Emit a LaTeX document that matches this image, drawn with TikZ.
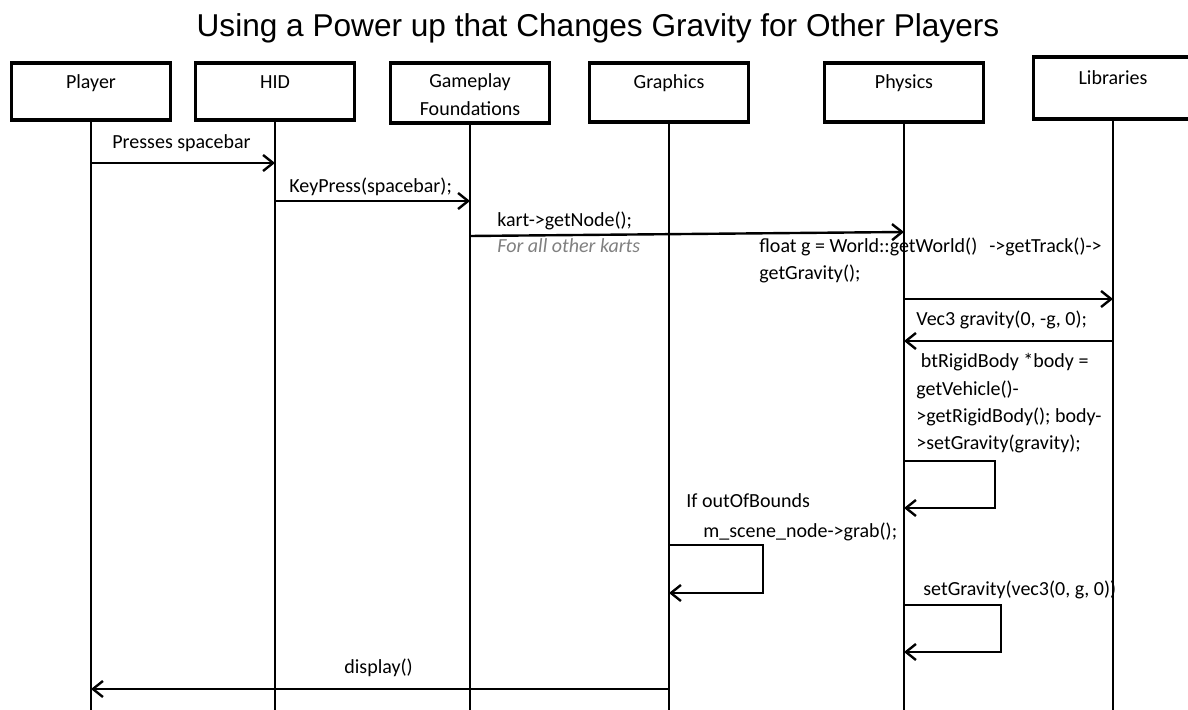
\documentclass[tikz,border=0pt]{standalone}
\usepackage{fontspec}
\setmainfont{Carlito}
\newfontfamily\titlefont{Liberation Sans}
\usetikzlibrary{arrows.meta}

\begin{document}
\begin{tikzpicture}[x=0.5pt,y=-0.5pt,
        actor/.style={draw,line width=1.7pt,minimum width=79.5pt,minimum height=28.5pt,inner sep=0pt},
        actorlabel/.style={anchor=base,inner sep=0pt,align=center,font=\fontsize{10}{14}\selectfont},
        lifeline/.style={line width=1.1pt},
        msg/.style={line width=1.2pt,-{Straight Barb[length=5pt,width=8pt]}},
        msgtext/.style={anchor=base west,inner sep=0pt,align=left,font=\fontsize{10}{13.6}\selectfont}]
    \useasboundingbox (0,0) rectangle (1188,710);
    \clip (0,0) rectangle (1188,710);

    \node[anchor=base,inner sep=0pt,font=\titlefont\fontsize{15.8}{18}\selectfont] (title) at (598,37)
        {Using a Power up that Changes Gravity for Other Players};

    \node[actor] (player) at (91,91.5) {};
    \node[actor] (hid) at (275,91.5) {};
    \node[actor,minimum height=30pt] (gameplay) at (470,93) {};
    \node[actor,minimum height=29.5pt] (graphics) at (669,92.5) {};
    \node[actor,minimum height=29.5pt] (physics) at (904,92.5) {};
    \node[actor,minimum height=31pt] (libraries) at (1113,88) {};

    \node[actorlabel] (playerlbl) at ([yshift=-13.5pt]player.north) {Player};
    \node[actorlabel] (hidlbl) at ([yshift=-13.5pt]hid.north) {HID};
    \node[actorlabel] (gameplaylbl) at ([yshift=-27pt]gameplay.north) {Gameplay\\Foundations};
    \node[actorlabel] (graphicslbl) at ([yshift=-13.5pt]graphics.north) {Graphics};
    \node[actorlabel] (physicslbl) at ([yshift=-13.5pt]physics.north) {Physics};
    \node[actorlabel] (librarieslbl) at ([yshift=-14.5pt]libraries.north) {Libraries};

    \coordinate (bottom) at (0,715);
    \foreach \n in {player,hid,gameplay,graphics,physics,libraries}
        \draw[lifeline] (\n.south) -- (\n.south |- bottom);

    \coordinate (y1) at (0,163);
    \coordinate (y2) at (0,201);
    \coordinate (y3a) at (0,236);
    \coordinate (y3b) at (0,232);
    \coordinate (y4) at (0,299);
    \coordinate (y5) at (0,341);
    \coordinate (y6) at (0,461);
    \coordinate (y7) at (0,545);
    \coordinate (y8) at (0,605);
    \coordinate (y9) at (0,689);

    \draw[msg] (player |- y1) -- (hid |- y1);
    \draw[msg] (hid |- y2) -- (gameplay |- y2);
    \draw[msg] (gameplay |- y3a) -- (physics |- y3b);
    \draw[msg] (physics |- y4) -- (libraries |- y4);
    \draw[msg] (libraries |- y5) -- (physics |- y5);
    \draw[msg] (physics |- y6) -- ++(91,0) -- ++(0,47) -- ++(-91,0);
    \draw[msg] (graphics |- y7) -- ++(94,0) -- ++(0,48) -- ++(-94,0);
    \draw[msg] (physics |- y8) -- ++(97,0) -- ++(0,47) -- ++(-97,0);
    \draw[msg] (graphics |- y9) -- (player |- y9);

    \node[msgtext] (presses) at (112,149) {Presses spacebar};
    \node[msgtext] (keypress) at (289,193) {KeyPress(spacebar);};
    \node[msgtext] (getnode) at (497,227) {kart->getNode();};
    \node[msgtext,text=black!50,font=\fontsize{10}{13.6}\selectfont\itshape] (allkarts) at (497,253) {For all other karts};
    \node[msgtext,font=\fontsize{10}{13.5}\selectfont] (getgravity) at (759,280) {float g = World::getWorld()\hspace{6pt}->getTrack()->\\getGravity();};
    \node[msgtext] (vec3) at (916,326) {Vec3 gravity(0, -g, 0);};
    \node[msgtext,font=\fontsize{10}{13.7}\selectfont] (rigidbody) at (916,450)
        {\ btRigidBody *body =\\getVehicle()-\\>getRigidBody(); body-\\>setGravity(gravity);};
    \node[msgtext] (outofbounds) at (686,508) {If outOfBounds};
    \node[msgtext] (grab) at (703,538) {m\_scene\_node->grab();};
    \node[msgtext] (setgravity) at (923,596) {setGravity(vec3(0, g, 0))};
    \node[msgtext] (display) at (344,673) {display()};
\end{tikzpicture}
\end{document}
